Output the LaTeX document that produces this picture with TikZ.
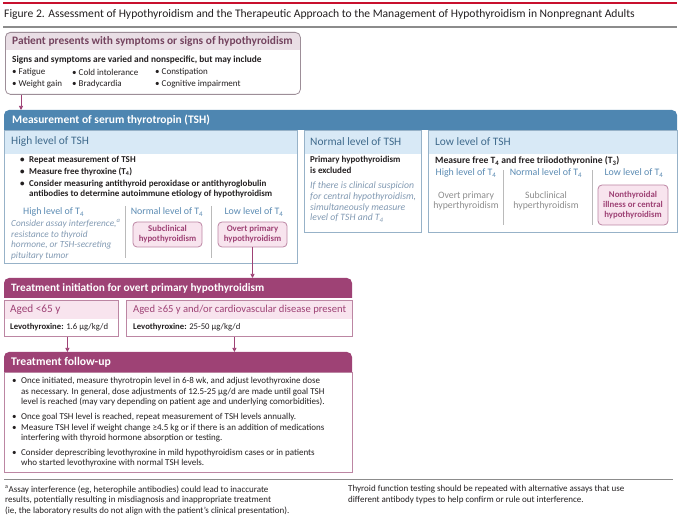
\documentclass[tikz,border=0pt]{standalone}
\usepackage{fontspec}
\setmainfont{Carlito}
\usetikzlibrary{positioning, arrows.meta, calc}
\definecolor{jamared}{HTML}{C8102E}
\definecolor{rulegray}{HTML}{8C8C8C}
\definecolor{inkdark}{HTML}{231F20}
\definecolor{mauve}{HTML}{E9DEE5}
\definecolor{mauveline}{HTML}{9D8E98}
\definecolor{plumdark}{HTML}{74445F}
\definecolor{tshblue}{HTML}{4E86B1}
\definecolor{tshpale}{HTML}{D8E9F6}
\definecolor{tshline}{HTML}{97B2C8}
\definecolor{tshtext}{HTML}{3F6A8C}
\definecolor{levblue}{HTML}{5A8AB2}
\definecolor{notegray}{HTML}{8199B2}
\definecolor{hypergray}{HTML}{8C8C8C}
\definecolor{plum}{HTML}{9E4275}
\definecolor{plumpale}{HTML}{F8E4EE}
\definecolor{plumline}{HTML}{BC86A3}

\begin{document}
\begin{tikzpicture}[x=1pt, y=-1pt,
        txt/.style={inner sep=0pt, anchor=west, text=inkdark, font=\fontsize{9}{10.5}\selectfont},
        btxt/.style={txt, font=\fontsize{9}{10.5}\selectfont\bfseries},
        para/.style={anchor=north west, align=left},
        note/.style={txt, para, text=notegray, font=\fontsize{9.3}{10.5}\selectfont\itshape},
        hdtxt/.style={inner sep=0pt, anchor=west, font=\fontsize{11.3}{13}\selectfont\bfseries},
        subhd/.style={inner sep=0pt, anchor=west, font=\fontsize{11.4}{12}\selectfont},
        t4lbl/.style={txt, anchor=center, text=levblue, font=\fontsize{9.9}{11}\selectfont},
        frame/.style={draw=#1, line width=0.8pt, inner sep=0pt, anchor=north west},
        band/.style={inner sep=0pt, anchor=north west},
        outbox/.style={draw=plumline, fill=plumpale, rounded corners=4pt, line width=0.8pt,
                       inner sep=0pt, align=center, text=plum,
                       font=\fontsize{8.8}{10}\selectfont\bfseries},
        sep/.style={draw=rulegray!60, line width=0.8pt},
        arr/.style={draw=plum, line width=0.7pt, -{Triangle[width=4pt, length=4pt]}},
    ]
    \useasboundingbox (0,0) rectangle (680,526);

    % Title strip
    \draw[jamared, line width=1.5pt] (3,3) -- (677,3);
    \node[txt, font=\fontsize{11.6}{12}\selectfont] (title) at (4,14)
        {Figure 2. Assessment of Hypothyroidism and the Therapeutic Approach to the Management of Hypothyroidism in Nonpregnant Adults};
    \draw[rulegray, line width=1.5pt] (3,27) -- (677,27);

    % Presentation
    \fill[mauve] (5,50) [rounded corners=5pt] -- (5,32) -- (300,32) [sharp corners] -- (300,50) -- cycle;
    \node[frame=mauveline, rounded corners=5pt, minimum width=295pt, minimum height=62pt] (patient) at (5,32) {};
    \node[hdtxt, text=plumdark, font=\fontsize{11.4}{13}\selectfont\bfseries] (pattitle) at (12,41.5)
        {Patient presents with symptoms or signs of hypothyroidism};
    \node[btxt, font=\fontsize{9.35}{10.5}\selectfont\bfseries] (signs) at (12,60)
        {Signs and symptoms are varied and nonspecific, but may include};
    \node[txt] (sfatigue) at (12,72) {\textbullet\ Fatigue};
    \node[txt] (sweight) at (12,84) {\textbullet\ Weight gain};
    \node[txt] (scold) at (72,72) {\textbullet\ Cold intolerance};
    \node[txt] (sbrady) at (72,84) {\textbullet\ Bradycardia};
    \node[txt] (sconst) at (155,72) {\textbullet\ Constipation};
    \node[txt] (scogn) at (155,84) {\textbullet\ Cognitive impairment};

    % Serum TSH
    \fill[tshblue] (4,130) [rounded corners=5pt] -- (4,110) -- (677,110) [sharp corners] -- (677,130) -- cycle;
    \node[band, minimum width=673pt, minimum height=20pt] (tsh) at (4,110) {};
    \node[hdtxt, text=white, font=\fontsize{11.5}{13}\selectfont\bfseries] (tshtitle) at (12,120)
        {Measurement of serum thyrotropin (TSH)};
    \draw[arr] ([xshift=16pt]patient.south west) -- ([xshift=16pt]patient.south west |- tsh.north);

    % High level of TSH
    \fill[tshpale] (4,130) rectangle (297,154);
    \node[frame=tshline, minimum width=293pt, minimum height=133pt] (high) at (4,130) {};
    \node[subhd, text=tshtext] (hightitle) at (11,142) {High level of TSH};
    \node[btxt] (hrepeat) at (20,160) {\textbullet\enspace Repeat measurement of TSH};
    \node[btxt] (hfree) at (20,172) {\textbullet\enspace Measure free thyroxine (T\textsubscript{4})};
    \node[btxt, para] (hanti) at (20,179.5)
        {\textbullet\enspace Consider measuring antithyroid peroxidase or antithyroglobulin\\
         \phantom{\textbullet\enspace}antibodies to determine autoimmune etiology of hypothyroidism};
    \node[t4lbl, anchor=west] (hhigh) at (23,212) {High level of T\textsubscript{4}};
    \node[t4lbl] (hnormal) at (167,212) {Normal level of T\textsubscript{4}};
    \node[t4lbl] (hlow) at (254,212) {Low level of T\textsubscript{4}};
    \node[note] (hnote) at (11,219.5)
        {Consider assay interference,\textsuperscript{a}\\resistance to thyroid\\hormone, or TSH-secreting\\pituitary tumor};
    \draw[sep] (125,206) -- (125,258);
    \draw[sep] (211,206) -- (211,258);
    \node[outbox, minimum width=69pt, minimum height=25pt] (subhypo) at (167.5,234.5) {Subclinical\\hypothyroidism};
    \node[outbox, minimum width=69pt, minimum height=25pt] (overt) at (252.5,234.5) {Overt primary\\hypothyroidism};

    % Normal level of TSH
    \fill[tshpale] (304,130) rectangle (421,154);
    \node[frame=tshline, minimum width=117pt, minimum height=102pt] (normal) at (304,130) {};
    \node[subhd, text=tshtext] (normaltitle) at (310,142) {Normal level of TSH};
    \node[btxt, para] (excluded) at (310,156) {Primary hypothyroidism\\is excluded};
    \node[note, font=\fontsize{9.7}{10.6}\selectfont\itshape] (central) at (310,182)
        {If there is clinical suspicion\\for central hypothyroidism,\\simultaneously measure\\level of TSH and T\textsubscript{4}};

    % Low level of TSH
    \fill[tshpale] (428,130) rectangle (677,154);
    \node[frame=tshline, minimum width=249pt, minimum height=102pt] (low) at (428,130) {};
    \node[subhd, text=tshtext] (lowtitle) at (435,142) {Low level of TSH};
    \node[btxt, font=\fontsize{9.6}{10.5}\selectfont\bfseries] (measure) at (435,161)
        {Measure free T\textsubscript{4} and free triiodothyronine (T\textsubscript{3})};
    \node[t4lbl] (lhigh) at (466,173) {High level of T\textsubscript{4}};
    \node[t4lbl] (lnormal) at (546,173) {Normal level of T\textsubscript{4}};
    \node[t4lbl] (llow) at (634,173) {Low level of T\textsubscript{4}};
    \draw[sep] (503,170) -- (503,225);
    \draw[sep] (592,170) -- (592,225);
    \node[txt, anchor=center, align=center, text=hypergray, font=\fontsize{9.8}{10.5}\selectfont] (overthyper) at (466,201)
        {Overt primary\\hyperthyroidism};
    \node[txt, anchor=center, align=center, text=hypergray, font=\fontsize{9.8}{10.5}\selectfont] (subhyper) at (546,201)
        {Subclinical\\hyperthyroidism};
    \node[outbox, minimum width=70pt, minimum height=40pt] (nonthy) at (633,205) {Nonthyroidal\\illness or central\\hypothyroidism};

    % Treatment initiation
    \fill[plum] (4,298) [rounded corners=5pt] -- (4,278) -- (352,278) [sharp corners] -- (352,298) -- cycle;
    \node[band, minimum width=348pt, minimum height=20pt] (treat) at (4,278) {};
    \node[hdtxt, text=white] (treattitle) at (11,288) {Treatment initiation for overt primary hypothyroidism};
    \draw[arr] (overt.south) -- (overt.south |- treat.north);

    \fill[plumpale] (4,300) rectangle (118,319);
    \node[frame=plumline, minimum width=114pt, minimum height=36pt] (young) at (4,300) {};
    \node[subhd, text=plum, font=\fontsize{11.2}{12}\selectfont] (youngtitle) at (10,309.5) {Aged <65 y};
    \node[txt, font=\fontsize{8.7}{10}\selectfont] (youngdose) at (10,327.5) {\textbf{Levothyroxine:} 1.6 µg/kg/d};

    \fill[plumpale] (126,300) rectangle (352,319);
    \node[frame=plumline, minimum width=226pt, minimum height=36pt] (old) at (126,300) {};
    \node[subhd, text=plum, font=\fontsize{10.6}{12}\selectfont] (oldtitle) at (133,309.5)
        {Aged ≥65 y and/or cardiovascular disease present};
    \node[txt, font=\fontsize{8.7}{10}\selectfont] (olddose) at (133,327.5) {\textbf{Levothyroxine:} 25-50 µg/kg/d};

    % Follow-up
    \fill[plum] (4,372) [rounded corners=5pt] -- (4,352) -- (352,352) [sharp corners] -- (352,372) -- cycle;
    \node[band, minimum width=348pt, minimum height=20pt] (follow) at (4,352) {};
    \node[hdtxt, text=white, font=\fontsize{11.7}{13}\selectfont\bfseries] (followtitle) at (11,362) {Treatment follow-up};
    \draw[arr] ([xshift=6pt]young.south) -- ([xshift=6pt]young.south |- follow.north);
    \draw[arr] ([xshift=-5pt]old.south) -- ([xshift=-5pt]old.south |- follow.north);

    \node[frame=plumline, minimum width=348pt, minimum height=100pt] (fbody) at (4,372) {};
    \begin{scope}[every node/.append style={font=\fontsize{9.3}{10.5}\selectfont}]
    \node[txt, para] (fonce) at (12,377.5)
        {\textbullet\enspace Once initiated, measure thyrotropin level in 6-8 wk, and adjust levothyroxine dose\\
         \phantom{\textbullet\enspace}as necessary. In general, dose adjustments of 12.5-25 µg/d are made until goal TSH\\
         \phantom{\textbullet\enspace}level is reached (may vary depending on patient age and underlying comorbidities).};
    \node[txt] (fannual) at (12,417) {\textbullet\enspace Once goal TSH level is reached, repeat measurement of TSH levels annually.};
    \node[txt, para] (fweight) at (12,424)
        {\textbullet\enspace Measure TSH level if weight change ≥4.5 kg or if there is an addition of medications\\
         \phantom{\textbullet\enspace}interfering with thyroid hormone absorption or testing.};
    \node[txt, para] (fdepre) at (12,449)
        {\textbullet\enspace Consider deprescribing levothyroxine in mild hypothyroidism cases or in patients\\
         \phantom{\textbullet\enspace}who started levothyroxine with normal TSH levels.};
    \end{scope}

    % Footnotes
    \draw[rulegray, line width=1pt] (4,479) -- (673,479);
    \begin{scope}[every node/.append style={font=\fontsize{10.3}{11.3}\selectfont}]
    \node[txt, para] (fnassay) at (5,485.5)
        {\textsuperscript{a}Assay interference (eg, heterophile antibodies) could lead to inaccurate\\
         results, potentially resulting in misdiagnosis and inappropriate treatment\\
         (ie, the laboratory results do not align with the patient's clinical presentation).};
    \node[txt, para] (fnrepeat) at (348,485.5)
        {Thyroid function testing should be repeated with alternative assays that use\\
         different antibody types to help confirm or rule out interference.};
    \end{scope}
\end{tikzpicture}
\end{document}
